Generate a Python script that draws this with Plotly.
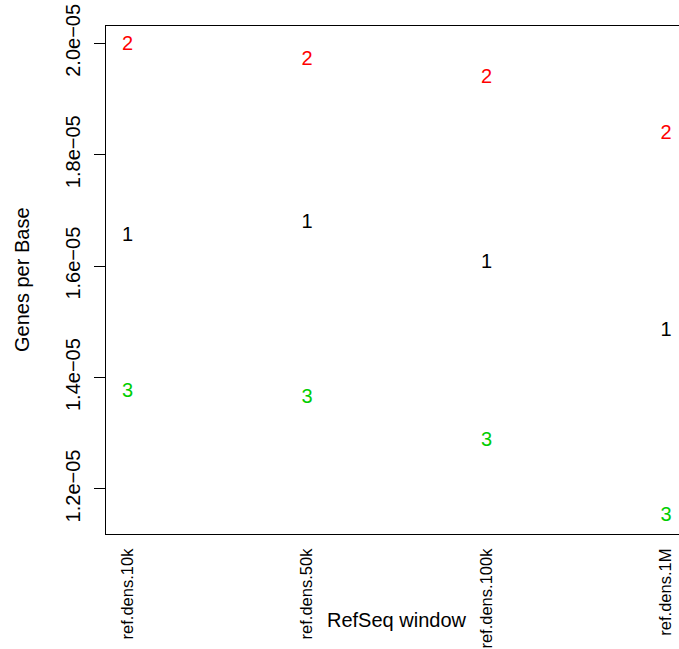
import plotly.graph_objects as go

categories = ["ref.dens.10k", "ref.dens.50k", "ref.dens.100k", "ref.dens.1M"]
series_labels = ["1", "2", "3"]
series_colors = ["#000000", "#FF0000", "#00CD00"]
series1 = [1.654e-05, 1.677e-05, 1.6065e-05, 1.4835e-05]
series2 = [1.997e-05, 1.970e-05, 1.9386e-05, 1.8372e-05]
series3 = [1.374e-05, 1.363e-05, 1.2865e-05, 1.1513e-05]
y_ticks = [1.2e-05, 1.4e-05, 1.6e-05, 1.8e-05, 2.0e-05]
y_tick_text = ["1.2e\u221205", "1.4e\u221205", "1.6e\u221205", "1.8e\u221205", "2.0e\u221205"]

FONT = "Liberation Sans, Arial, sans-serif"
xs = [1, 2, 3, 4]

fig = go.Figure()
for lab, col, vals in zip(series_labels, series_colors, [series1, series2, series3]):
    fig.add_trace(go.Scatter(
        x=xs, y=vals, mode="text", text=[lab] * len(xs),
        textposition="middle center",
        textfont=dict(family=FONT, size=20, color=col),
        showlegend=False, hoverinfo="skip", cliponaxis=False,
    ))

fig.update_layout(
    width=679, height=649,
    margin=dict(l=106, r=0, t=26, b=115, pad=0, autoexpand=False),
    paper_bgcolor="white", plot_bgcolor="white",
    font=dict(family=FONT, size=20, color="black"),
    showlegend=False,
)
fig.update_xaxes(
    range=[0.88, 4.0722],
    tickmode="array", tickvals=xs, ticktext=categories,
    tickangle=-90, ticks="", showgrid=False, zeroline=False,
    showline=True, linecolor="black", linewidth=1, mirror=True,
    tickfont=dict(family=FONT, size=16.5, color="black"),
    ticklabelstandoff=7, automargin=False, ticklabeloverflow="allow",
)
fig.update_yaxes(
    range=[1.1192e-05, 2.0311e-05],
    tickmode="array", tickvals=y_ticks, ticktext=y_tick_text,
    tickangle=-90, ticks="outside", ticklen=11, tickcolor="black", tickwidth=1,
    showgrid=False, zeroline=False,
    showline=True, linecolor="black", linewidth=1, mirror=False,
    tickfont=dict(family=FONT, size=20, color="black"),
    ticklabelstandoff=6, automargin=False, ticklabeloverflow="allow",
)
fig.add_annotation(
    text="RefSeq window", xref="x", yref="paper", x=2.5, y=-(620 - 534) / 508,
    xanchor="center", yanchor="middle", showarrow=False,
    font=dict(family=FONT, size=20, color="black"),
)
fig.add_annotation(
    text="Genes per Base", xref="paper", yref="paper",
    x=(22 - 106) / 573, y=0.5, textangle=-90,
    xanchor="center", yanchor="middle", showarrow=False,
    font=dict(family=FONT, size=20, color="black"),
)

fig.write_html(
    "out.html",
    config={"displayModeBar": False},
    post_script="document.body.style.margin='0';document.body.style.overflow='hidden';",
)
